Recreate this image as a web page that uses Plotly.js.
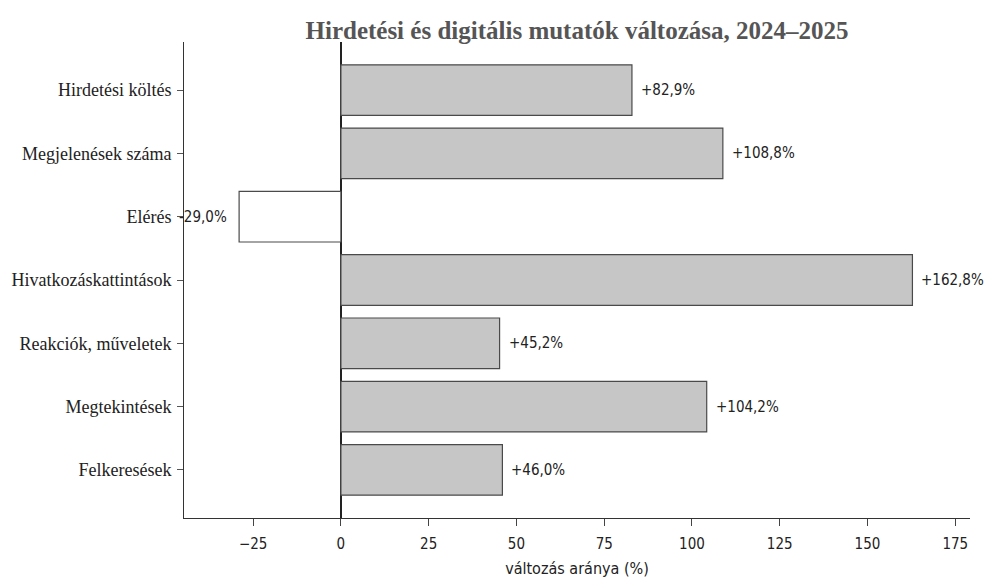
<!DOCTYPE html>
<html>
<head>
<meta charset="utf-8">
<script src="https://cdn.plot.ly/plotly-3.0.1.min.js"></script>
<style>html,body{margin:0;padding:0;background:#fff;}#chart{width:985px;height:578px;}</style>
</head>
<body>
<div id="chart"></div>
<script>
const categories = ["Hirdetési költés","Megjelenések száma","Elérés","Hivatkozáskattintások","Reakciók, műveletek","Megtekintések","Felkeresések"];
const changes = [82.9, 108.8, -29.0, 162.8, 45.2, 104.2, 46.0];
const xTicks = [-25, 0, 25, 50, 75, 100, 125, 150, 175];

const fmt = v => (v > 0 ? "+" : "-") + Math.abs(v).toFixed(1).replace(".", ",") + "%";
const fills = changes.map(v => v < 0 ? "#ffffff" : "#c6c6c6");

const trace = {
  type: "bar",
  orientation: "h",
  x: changes,
  y: categories,
  width: 0.8,
  marker: {color: fills, line: {color: "#4a4a4a", width: 1.2}},
  hoverinfo: "skip"
};

const annotations = changes.map((v, i) => ({
  x: v, y: categories[i], xref: "x", yref: "y",
  text: fmt(v), showarrow: false,
  xanchor: v < 0 ? "right" : "left",
  xshift: v < 0 ? -10 : 7,
  font: {family: "DejaVu Sans Condensed, DejaVu Sans, sans-serif", size: 15, color: "#222"}
}));

const layout = {
  width: 985, height: 578,
  margin: {l: 184, r: 15, t: 42, b: 60},
  paper_bgcolor: "#fff", plot_bgcolor: "#fff",
  showlegend: false,
  title: {
    text: "<b>Hirdetési és digitális mutatók változása, 2024–2025</b>",
    font: {family: "Liberation Serif, serif", size: 25, color: "#555"},
    x: 0.5, xref: "paper", xanchor: "center", y: 0.948, yref: "container", yanchor: "middle"
  },
  xaxis: {
    range: [-44.7, 179.2],
    tickvals: xTicks,
    ticktext: xTicks.map(t => t < 0 ? "−" + Math.abs(t) : String(t)),
    ticks: "outside", ticklen: 7, tickcolor: "#444", tickwidth: 1,
    showline: true, linecolor: "#333", linewidth: 1,
    showgrid: false,
    zeroline: true, zerolinecolor: "#222", zerolinewidth: 1.2,
    tickfont: {family: "DejaVu Sans Condensed, sans-serif", size: 15, color: "#222"},
    ticklabelstandoff: 5,
    title: {text: "változás aránya (%)", font: {family: "DejaVu Sans Condensed, sans-serif", size: 16, color: "#222"}, standoff: 10},
    fixedrange: true
  },
  yaxis: {
    type: "category",
    categoryorder: "array", categoryarray: categories,
    range: [6.76, -0.76],
    ticks: "outside", ticklen: 6, tickcolor: "#555", tickwidth: 1,
    showline: true, linecolor: "#333", linewidth: 1,
    showgrid: false, zeroline: false,
    tickfont: {family: "Liberation Serif, serif", size: 18, color: "#222"},
    ticklabelstandoff: 2,
    fixedrange: true
  },
  annotations: annotations
};

Plotly.newPlot("chart", [trace], layout, {displayModeBar: false, staticPlot: true});
</script>
</body>
</html>
